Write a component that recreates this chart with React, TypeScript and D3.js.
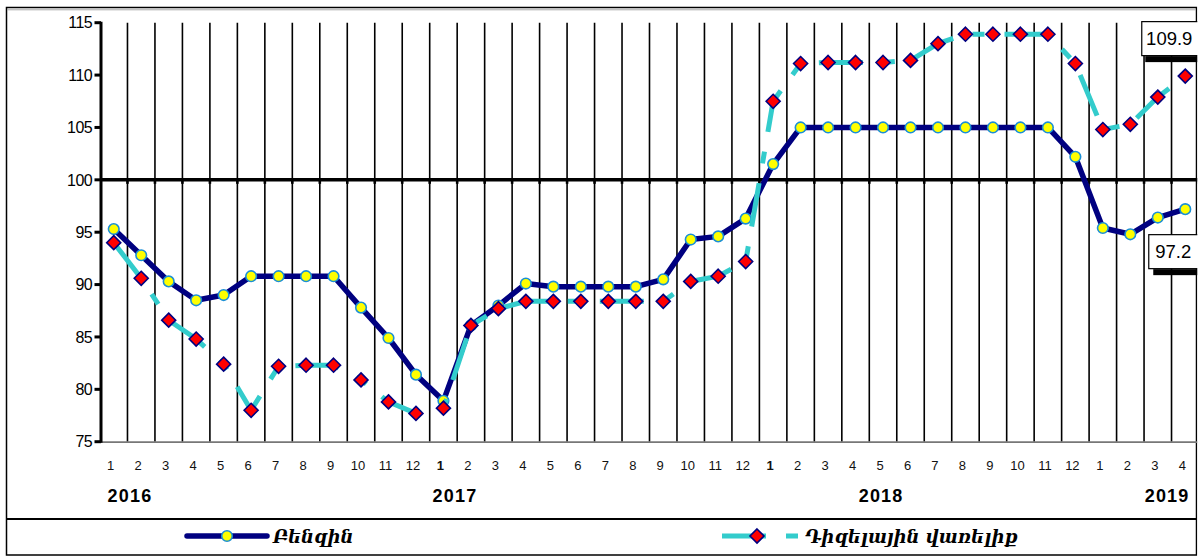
import React from "react";
import * as d3 from "d3";

const years = ["2016", "2017", "2018", "2019"];
const monthLabels = ["1","2","3","4","5","6","7","8","9","10","11","12","1","2","3","4","5","6","7","8","9","10","11","12","1","2","3","4","5","6","7","8","9","10","11","12","1","2","3","4"];
const boldMonthIdx = [12, 24];
const yearLabelPos = [1.09, 12.92, 28.43, 38.84];

const benzin = [95.3, 92.8, 90.3, 88.5, 89.0, 90.8, 90.8, 90.8, 90.8, 87.8, 84.9, 81.4,
  78.9, 86.1, 88.0, 90.1, 89.8, 89.8, 89.8, 89.8, 90.5, 94.3, 94.6, 96.3,
  101.5, 105.0, 105.0, 105.0, 105.0, 105.0, 105.0, 105.0, 105.0, 105.0, 105.0, 102.2,
  95.4, 94.8, 96.4, 97.2];
const diesel = [94.0, 90.6, 86.6, 84.8, 82.4, 78.0, 82.2, 82.3, 82.3, 80.9, 78.8, 77.7,
  78.2, 86.1, 87.7, 88.4, 88.4, 88.4, 88.4, 88.4, 88.4, 90.3, 90.8, 92.2,
  107.5, 111.1, 111.2, 111.2, 111.2, 111.4, 113.0, 113.9, 113.9, 113.9, 113.9, 111.1,
  104.8, 105.3, 107.9, 109.9];
const yTicks = [75, 80, 85, 90, 95, 100, 105, 110, 115];
const seriesNames = ["Բենզին", "Դիզելային վառելիք"];
const endLabels = ["97.2", "109.9"];

const categories = monthLabels.map((m, i) => i);

export default function App() {
  const W = 1199, H = 557;
  const x = d3.scaleBand<number>().domain(categories).range([100, 1199]).paddingInner(0).paddingOuter(0);
  const y = d3.scaleLinear().domain([75, 115]).range([441.7, 22.7]);
  const cx = (i: number) => (x(i) as number) + x.bandwidth() / 2;
  const line = d3.line<number>().x((d, i) => cx(i)).y((d) => y(d));
  const dashes = "44,20,12,20";
  const font = "'Liberation Sans', Arial, sans-serif";
  const armFont = "'DejaVu Serif', serif";
  const diamond = (px: number, py: number, r: number) => `M${px},${py - r}L${px + r},${py}L${px},${py + r}L${px - r},${py}Z`;
  const lastI = categories.length - 1;
  const lbx = cx(lastI);
  const lbBy = y(benzin[lastI]);
  const lbDy = y(diesel[lastI]);
  const boundaries = d3.range(categories.length + 1).map((i) => 100 + i * x.step());

  return (
    <svg width={W} height={H} style={{ position: "absolute", left: 0, top: 0, background: "#fff" }}>
      <rect x={0} y={0} width={W} height={H} fill="#fff" />
      {/* outer border */}
      <rect x={6.5} y={7.5} width={1190} height={547.5} fill="none" stroke="#000" strokeWidth={1.5} />
      <line x1={7} x2={1196} y1={9.8} y2={9.8} stroke="#aaa" strokeWidth={1} />
      <line x1={6} x2={1197} y1={519} y2={519} stroke="#000" strokeWidth={2} />
      {/* vertical gridlines */}
      {boundaries.slice(1).map((bx, i) => (
        <line key={"g" + i} x1={bx} x2={bx} y1={y(115)} y2={y(75)} stroke="#000" strokeWidth={1.6} />
      ))}
      {/* bottom axis line */}
      <line x1={100} x2={1199} y1={y(75) + 0.5} y2={y(75) + 0.5} stroke="#777" strokeWidth={1.8} />
      {/* 100 line with ticks */}
      <line x1={100} x2={1199} y1={y(100)} y2={y(100)} stroke="#000" strokeWidth={3.5} />
      {boundaries.slice(1).map((bx, i) => (
        <line key={"t" + i} x1={bx} x2={bx} y1={y(100)} y2={y(100) + 4} stroke="#000" strokeWidth={2.6} />
      ))}
      {/* y axis */}
      <line x1={101} x2={101} y1={y(115) - 1} y2={y(75) + 1} stroke="#000" strokeWidth={3} />
      {yTicks.map((t) => (
        <g key={"y" + t}>
          <line x1={94.5} x2={101} y1={y(t)} y2={y(t)} stroke="#000" strokeWidth={3} />
          <text x={92} y={y(t)} dy="0.36em" textAnchor="end" fontFamily={font} fontSize={16} letterSpacing={-0.6} fill="#000">{t}</text>
        </g>
      ))}
      {/* month labels */}
      {monthLabels.map((m, i) => (
        <text key={"m" + i} x={cx(i) - 3} y={470} textAnchor="middle" fontFamily={font} fontSize={13}
          fontWeight={boldMonthIdx.includes(i) ? "bold" : "normal"} fill="#111">{m}</text>
      ))}
      {years.map((yr, k) => (
        <text key={"yr" + k} x={100 + yearLabelPos[k] * x.step()} y={501.5} textAnchor="middle" fontFamily={font}
          fontSize={18} fontWeight="bold" letterSpacing={1.2} fill="#000">{yr}</text>
      ))}
      {/* benzin line */}
      <path d={line(benzin) || ""} fill="none" stroke="#000080" strokeWidth={5.5} strokeLinejoin="round" />
      {benzin.map((v, i) => (
        <circle key={"c" + i} cx={cx(i)} cy={y(v)} r={5.3} fill="#ffff00" stroke="#1a8fd6" strokeWidth={1.6} />
      ))}
      {/* diesel line */}
      <path d={line(diesel) || ""} fill="none" stroke="#33cccc" strokeWidth={5} strokeDasharray={dashes} strokeLinecap="butt" />
      {diesel.map((v, i) => (
        <path key={"d" + i} d={diamond(cx(i), y(v), 7)} fill="#ff0000" stroke="#000080" strokeWidth={1.6} />
      ))}
      {/* end labels */}
      <g>
        <rect x={lbx - 40} y={lbDy - 20} width={60} height={6} fill="#000" />
        <rect x={lbx - 43.5} y={lbDy - 54.5} width={60} height={34} fill="#fff" stroke="#000" strokeWidth={1.2} />
        <text x={lbx - 16} y={lbDy - 31} textAnchor="middle" fontFamily={font} fontSize={18.5} fill="#000">{endLabels[1]}</text>
        <rect x={lbx - 32} y={lbBy + 60} width={60} height={6} fill="#000" />
        <rect x={lbx - 36.5} y={lbBy + 25.5} width={60} height={34} fill="#fff" stroke="#000" strokeWidth={1.2} />
        <text x={lbx - 12} y={lbBy + 49} textAnchor="middle" fontFamily={font} fontSize={18.5} fill="#000">{endLabels[0]}</text>
      </g>
      <rect x={1197.3} y={0} width={2} height={H} fill="#fff" />
      {/* legend */}
      <line x1={187} x2={267} y1={536} y2={536} stroke="#000080" strokeWidth={5.5} strokeLinecap="round" />
      <circle cx={227} cy={536} r={5.3} fill="#ffff00" stroke="#1a8fd6" strokeWidth={1.6} />
      <text x={273} y={543} fontFamily={armFont} fontStyle="italic" fontWeight="bold" fontSize={18} fill="#000">{seriesNames[0]}</text>
      <line x1={722} x2={798} y1={536} y2={536} stroke="#33cccc" strokeWidth={5} strokeDasharray={dashes} />
      <path d={diamond(757, 536, 7)} fill="#ff0000" stroke="#000080" strokeWidth={1.6} />
      <text x={805} y={543} fontFamily={armFont} fontStyle="italic" fontWeight="bold" fontSize={18} fill="#000">{seriesNames[1]}</text>
    </svg>
  );
}
